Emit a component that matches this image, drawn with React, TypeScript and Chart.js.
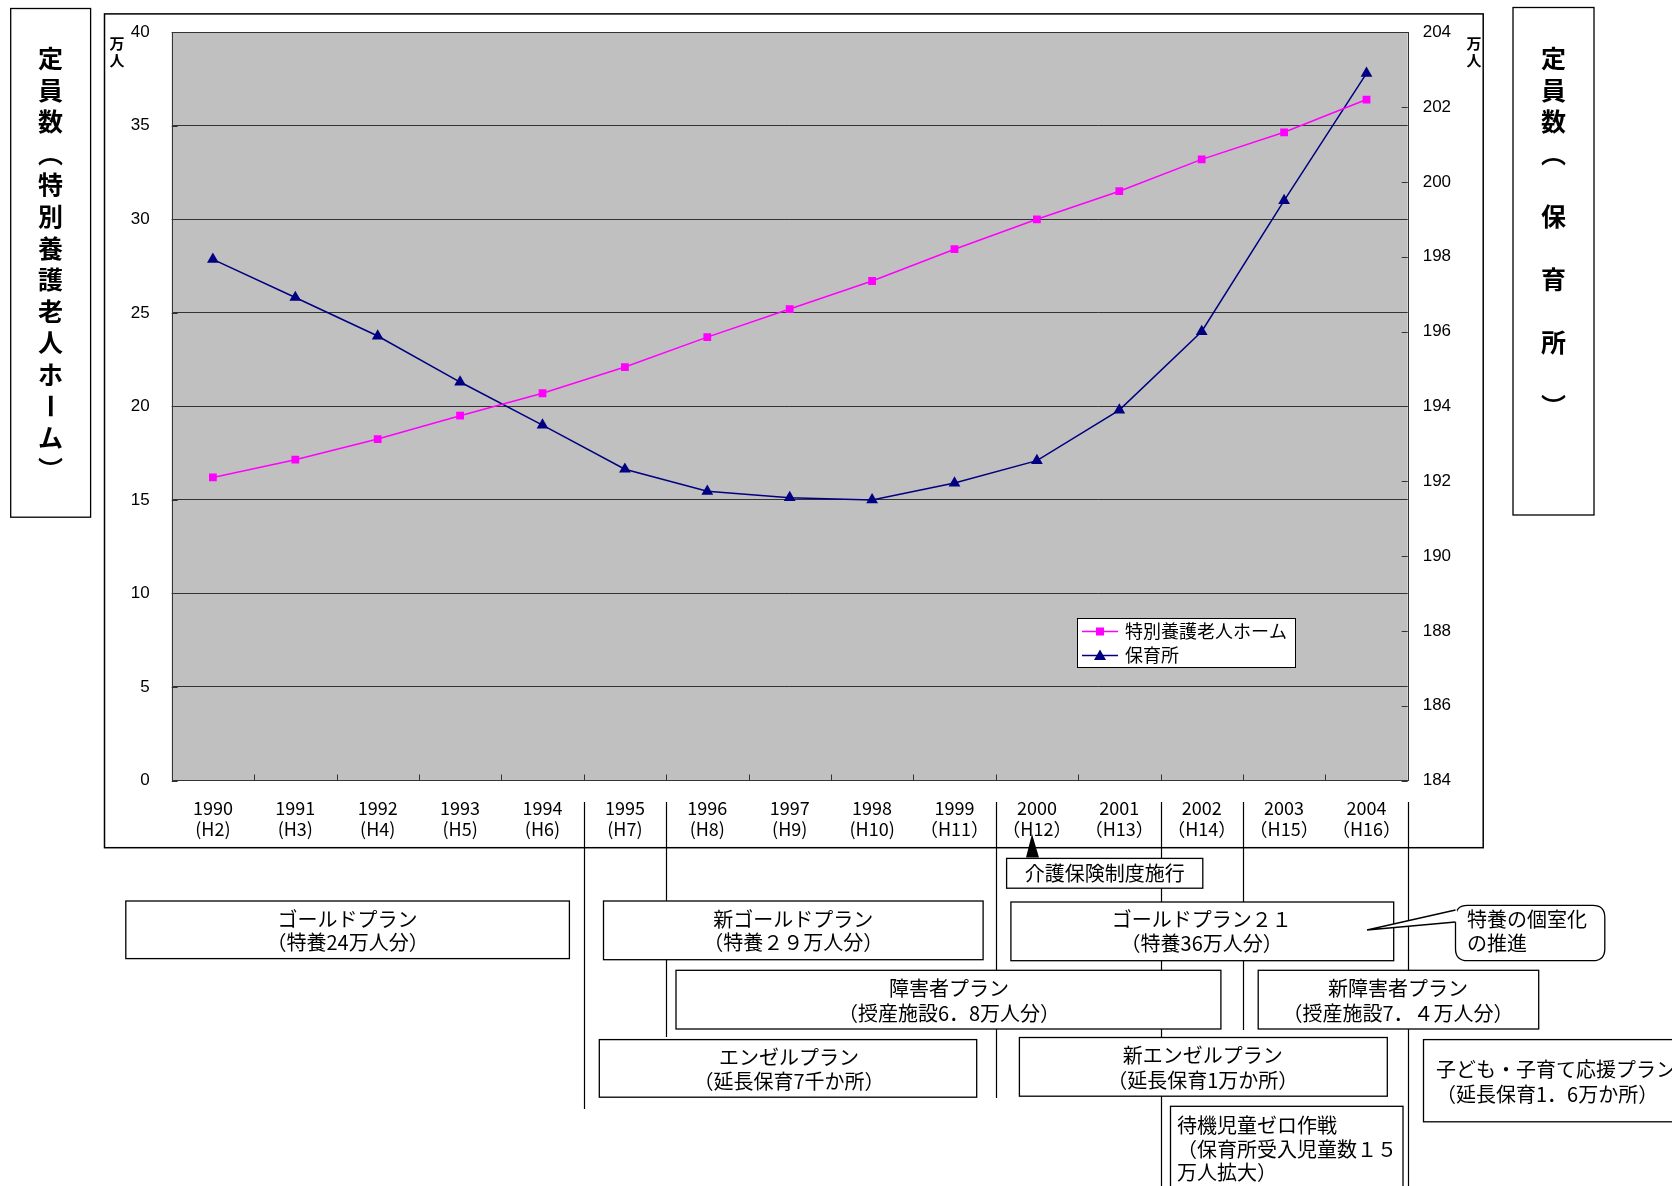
import React, { useEffect, useRef } from 'react';
import { Chart, registerables } from 'chart.js';

Chart.register(...registerables);

// ---------------- data ----------------
const years = ['1990', '1991', '1992', '1993', '1994', '1995', '1996', '1997', '1998', '1999', '2000', '2001', '2002', '2003', '2004'];
const heisei = ['(H2)', '(H3)', '(H4)', '(H5)', '(H6)', '(H7)', '(H8)', '(H9)', '(H10)', '（H11）', '（H12）', '（H13）', '（H14）', '（H15）', '（H16）'];
const seriesNames = ['特別養護老人ホーム', '保育所'];
// 特別養護老人ホーム 定員数（万人）— left axis
const tokuyouValues = [16.2, 17.15, 18.25, 19.5, 20.7, 22.1, 23.7, 25.2, 26.7, 28.4, 30.0, 31.5, 33.2, 34.65, 36.4];
// 保育所 定員数（万人）— right axis
const hoikuValues = [197.93, 196.91, 195.88, 194.65, 193.5, 192.32, 191.73, 191.56, 191.5, 191.95, 192.55, 193.9, 196.0, 199.5, 202.9];
const leftTicks = [0, 5, 10, 15, 20, 25, 30, 35, 40];
const rightTicks = [184, 186, 188, 190, 192, 194, 196, 198, 200, 202, 204];
const leftTitle = '定員数︵特別養護老人ホーム︶';
const rightTitle = '定員数︵　保　育　所　︶';
const unitLabel = ['万', '人'];

// annotation texts
const planKaigo = ['介護保険制度施行'];
const planGold = ['ゴールドプラン', '（特養24万人分）'];
const planNewGold = ['新ゴールドプラン', '（特養２９万人分）'];
const planGold21 = ['ゴールドプラン２１', '（特養36万人分）'];
const planShogai = ['障害者プラン', '（授産施設6．8万人分）'];
const planNewShogai = ['新障害者プラン', '（授産施設7．４万人分）'];
const planAngel = ['エンゼルプラン', '（延長保育7千か所）'];
const planNewAngel = ['新エンゼルプラン', '（延長保育1万か所）'];
const planKodomo = ['子ども・子育て応援プラン', '（延長保育1．6万か所）'];
const planTaiki = ['待機児童ゼロ作戦', '（保育所受入児童数１５', '万人拡大）'];
const calloutText = ['特養の個室化', 'の推進'];

const FONT_JP = '"Noto Sans CJK JP", "Noto Sans CJK SC", sans-serif';
const FONT_NUM = '"Liberation Sans", Arial, sans-serif';
const W = 1672;
const H = 1186;

function box(ctx: CanvasRenderingContext2D, x: number, y: number, w: number, h: number) {
  ctx.save();
  ctx.fillStyle = '#fff';
  ctx.fillRect(x, y, w, h);
  ctx.strokeStyle = '#000';
  ctx.lineWidth = 1.3;
  ctx.strokeRect(x, y, w, h);
  ctx.restore();
}

function textLines(ctx: CanvasRenderingContext2D, lines: string[], x: number, ys: number[], align: CanvasTextAlign) {
  ctx.save();
  ctx.fillStyle = '#000';
  ctx.font = `20px ${FONT_JP}`;
  ctx.textAlign = align;
  ctx.textBaseline = 'middle';
  lines.forEach((l, i) => ctx.fillText(l, x, ys[i]));
  ctx.restore();
}

function verticalText(ctx: CanvasRenderingContext2D, text: string, cx: number, y0: number, step: number, font: string) {
  ctx.save();
  ctx.fillStyle = '#000';
  ctx.font = font;
  ctx.textAlign = 'center';
  ctx.textBaseline = 'middle';
  Array.from(text).forEach((ch, i) => {
    const y = y0 + i * step;
    if (ch === 'ー') {
      ctx.save();
      ctx.translate(cx, y);
      ctx.rotate(Math.PI / 2);
      ctx.fillText(ch, 0, 0);
      ctx.restore();
    } else {
      ctx.fillText(ch, cx, y);
    }
  });
  ctx.restore();
}

const decorPlugin = {
  id: 'decor',
  beforeDraw(chart: any) {
    const { ctx, chartArea: a } = chart;
    ctx.save();
    ctx.fillStyle = '#fff';
    ctx.fillRect(0, 0, chart.width, chart.height);
    ctx.fillStyle = '#C0C0C0';
    ctx.fillRect(a.left, a.top, a.right - a.left, a.bottom - a.top);
    ctx.restore();
  },
  beforeDatasetsDraw(chart: any) {
    const { ctx, chartArea: a, scales } = chart;
    ctx.save();
    ctx.strokeStyle = '#333';
    ctx.lineWidth = 1;
    ctx.strokeRect(Math.round(a.left) + 0.5, Math.round(a.top) + 0.5, Math.round(a.right - a.left), Math.round(a.bottom - a.top));
    ctx.beginPath();
    const n = chart.data.labels.length;
    for (let i = 0; i <= n; i++) {
      const x = Math.round(a.left + ((a.right - a.left) * i) / n) + 0.5;
      ctx.moveTo(x, a.bottom);
      ctx.lineTo(x, a.bottom - 6);
    }
    scales.y2.ticks.forEach((t: any) => {
      const y = Math.round(scales.y2.getPixelForValue(t.value)) + 0.5;
      ctx.moveTo(a.right, y);
      ctx.lineTo(a.right - 6, y);
    });
    scales.y.ticks.forEach((t: any) => {
      const y = Math.round(scales.y.getPixelForValue(t.value)) + 0.5;
      ctx.moveTo(a.left, y);
      ctx.lineTo(a.left + 6, y);
    });
    ctx.stroke();
    ctx.restore();
  },
  afterDraw(chart: any) {
    const { ctx, chartArea: a } = chart;
    const n = chart.data.labels.length;
    const bx = (i: number) => Math.round(a.left + ((a.right - a.left) * i) / n) + 0.5;

    // legend
    ctx.save();
    ctx.fillStyle = '#fff';
    ctx.fillRect(1077, 618.5, 218.5, 49);
    ctx.strokeStyle = '#000';
    ctx.lineWidth = 1;
    ctx.strokeRect(1077.5, 618.5, 218, 49);
    const rows = [631.5, 655.5];
    chart.data.datasets.forEach((ds: any, i: number) => {
      const y = rows[i];
      ctx.strokeStyle = ds.borderColor;
      ctx.lineWidth = 1.5;
      ctx.beginPath();
      ctx.moveTo(1082, y);
      ctx.lineTo(1118, y);
      ctx.stroke();
      ctx.fillStyle = ds.borderColor;
      ctx.beginPath();
      if (ds.pointStyle === 'rect') {
        ctx.rect(1096, y - 4, 8, 8);
      } else {
        ctx.moveTo(1100, y - 6);
        ctx.lineTo(1106, y + 4.5);
        ctx.lineTo(1094, y + 4.5);
        ctx.closePath();
      }
      ctx.fill();
      ctx.fillStyle = '#000';
      ctx.font = `18px ${FONT_JP}`;
      ctx.textAlign = 'left';
      ctx.textBaseline = 'middle';
      ctx.fillText(ds.label, 1125, y);
    });
    ctx.restore();

    // outer chart border
    ctx.save();
    ctx.strokeStyle = '#000';
    ctx.lineWidth = 1.5;
    ctx.strokeRect(104.5, 13.9, 1378.7, 833.8);
    // title boxes
    ctx.lineWidth = 1.3;
    ctx.strokeRect(10.7, 8.5, 79.9, 508.7);
    ctx.strokeRect(1513, 7.5, 81, 507.5);
    ctx.restore();

    verticalText(ctx, leftTitle, 50.5, 58.5, 31.6, `bold 25px ${FONT_JP}`);
    verticalText(ctx, rightTitle, 1553.5, 58.5, 31.6, `bold 25px ${FONT_JP}`);
    verticalText(ctx, unitLabel.join(''), 117, 43, 17, `bold 15px ${FONT_JP}`);
    verticalText(ctx, unitLabel.join(''), 1474, 43, 17, `bold 15px ${FONT_JP}`);

    // vertical period lines
    const vlines: [number, number][] = [
      [5, 1109],
      [6, 1037],
      [10, 1098],
      [12, 1186],
      [13, 1030],
      [15, 1186],
    ];
    ctx.save();
    ctx.strokeStyle = '#000';
    ctx.lineWidth = 1.2;
    ctx.beginPath();
    vlines.forEach(([i, yEnd]) => {
      ctx.moveTo(bx(i), 802);
      ctx.lineTo(bx(i), yEnd);
    });
    ctx.stroke();
    ctx.restore();

    // arrow to 2000
    ctx.save();
    ctx.fillStyle = '#000';
    ctx.beginPath();
    ctx.moveTo(1032, 834);
    ctx.lineTo(1039, 857.5);
    ctx.lineTo(1026, 857.5);
    ctx.closePath();
    ctx.fill();
    ctx.restore();

    // boxes
    box(ctx, 1006.6, 858.4, 196.2, 29.8);
    textLines(ctx, planKaigo, 1104.7, [873.5], 'center');

    box(ctx, 125.8, 901, 443.6, 57.6);
    textLines(ctx, planGold, 347.6, [919, 942.6], 'center');

    box(ctx, 603.5, 901, 379.6, 58.7);
    textLines(ctx, planNewGold, 793.3, [919, 942.6], 'center');

    box(ctx, 1010.9, 902, 382.8, 58.7);
    textLines(ctx, planGold21, 1201.7, [919.5, 943.7], 'center');

    box(ctx, 676, 970.3, 544.9, 58.7);
    textLines(ctx, planShogai, 949, [988.5, 1013], 'center');

    box(ctx, 1258.2, 970.3, 280.5, 58.7);
    textLines(ctx, planNewShogai, 1398, [988.5, 1013], 'center');

    box(ctx, 599.3, 1039.6, 377.4, 57.6);
    textLines(ctx, planAngel, 789, [1057.8, 1081.2], 'center');

    box(ctx, 1019.4, 1037.5, 367.9, 58.7);
    textLines(ctx, planNewAngel, 1202.8, [1055.6, 1080], 'center');

    box(ctx, 1423.5, 1039.6, 270, 82.2);
    textLines(ctx, planKodomo, 1436, [1069.5, 1094], 'left');

    box(ctx, 1170.5, 1106.3, 232.5, 100);
    textLines(ctx, planTaiki, 1177, [1125, 1149.5, 1172.5], 'left');

    // callout
    ctx.save();
    const cx0 = 1455.5, cy0 = 905.3, cw = 149.3, ch = 55.4, r = 12;
    ctx.beginPath();
    ctx.moveTo(cx0 + r, cy0);
    ctx.lineTo(cx0 + cw - r, cy0);
    ctx.quadraticCurveTo(cx0 + cw, cy0, cx0 + cw, cy0 + r);
    ctx.lineTo(cx0 + cw, cy0 + ch - r);
    ctx.quadraticCurveTo(cx0 + cw, cy0 + ch, cx0 + cw - r, cy0 + ch);
    ctx.lineTo(cx0 + r, cy0 + ch);
    ctx.quadraticCurveTo(cx0, cy0 + ch, cx0, cy0 + ch - r);
    ctx.lineTo(cx0, cy0 + r);
    ctx.quadraticCurveTo(cx0, cy0, cx0 + r, cy0);
    ctx.closePath();
    ctx.fillStyle = '#fff';
    ctx.fill();
    ctx.strokeStyle = '#000';
    ctx.lineWidth = 1.3;
    ctx.stroke();
    // pointer
    ctx.beginPath();
    ctx.moveTo(cx0 + 1.5, 910);
    ctx.lineTo(1367, 930);
    ctx.lineTo(cx0 + 1.5, 922);
    ctx.closePath();
    ctx.fill();
    ctx.beginPath();
    ctx.moveTo(cx0, 910);
    ctx.lineTo(1367, 930);
    ctx.lineTo(cx0, 922);
    ctx.stroke();
    ctx.restore();
    textLines(ctx, calloutText, 1467, [919.5, 943.7], 'left');
  },
};

export default function App() {
  const ref = useRef<HTMLCanvasElement>(null);
  useEffect(() => {
    const canvas = ref.current!;
    const chart = new Chart(canvas, {
      type: 'line',
      data: {
        labels: years.map((y, i) => [y, heisei[i]]),
        datasets: [
          {
            label: seriesNames[0],
            data: tokuyouValues,
            yAxisID: 'y',
            borderColor: '#FF00FF',
            backgroundColor: '#FF00FF',
            pointBorderColor: '#FF00FF',
            pointBackgroundColor: '#FF00FF',
            borderWidth: 1.5,
            pointStyle: 'rect',
            pointRadius: 5.5,
            pointBorderWidth: 0,
            tension: 0,
          },
          {
            label: seriesNames[1],
            data: hoikuValues,
            yAxisID: 'y2',
            borderColor: '#000080',
            backgroundColor: '#000080',
            pointBorderColor: '#000080',
            pointBackgroundColor: '#000080',
            borderWidth: 1.5,
            pointStyle: 'triangle',
            pointRadius: 6.8,
            pointBorderWidth: 0,
            tension: 0,
          },
        ],
      } as any,
      options: {
        animation: false,
        responsive: false,
        devicePixelRatio: 1,
        events: [],
        layout: { padding: { top: 29.9, left: 0, right: 0, bottom: 0 } },
        plugins: {
          legend: { display: false },
          tooltip: { enabled: false },
        },
        scales: {
          x: {
            type: 'category',
            offset: true,
            grid: { display: false, drawTicks: false },
            border: { display: false },
            ticks: {
              color: '#000',
              padding: 17.5,
              maxRotation: 0,
              autoSkip: false,
              font: { family: FONT_JP, size: 18, lineHeight: 1.14 },
            },
            afterFit: (s: any) => {
              s.height = H - 780.5;
            },
          },
          y: {
            position: 'left',
            min: 0,
            max: 40,
            afterBuildTicks: (s: any) => {
              s.ticks = leftTicks.map((v) => ({ value: v }));
            },
            ticks: { color: '#000', padding: 22, font: { family: FONT_NUM, size: 17 } },
            grid: { color: '#333', lineWidth: 1, drawTicks: false },
            border: { display: false },
            afterFit: (s: any) => {
              s.width = 171.7;
            },
          },
          y2: {
            position: 'right',
            min: 184,
            max: 204,
            afterBuildTicks: (s: any) => {
              s.ticks = rightTicks.map((v) => ({ value: v }));
            },
            ticks: { color: '#000', padding: 15, font: { family: FONT_NUM, size: 17 } },
            grid: { drawOnChartArea: false, drawTicks: false },
            border: { display: false },
            afterFit: (s: any) => {
              s.width = W - 1407.7;
            },
          },
        },
      } as any,
      plugins: [decorPlugin],
    });
    return () => chart.destroy();
  }, []);

  return (
    <div style={{ position: 'absolute', left: 0, top: 0, width: W, height: H, background: '#fff', overflow: 'hidden' }}>
      <canvas ref={ref} width={W} height={H} style={{ display: 'block', width: W, height: H }} />
    </div>
  );
}
